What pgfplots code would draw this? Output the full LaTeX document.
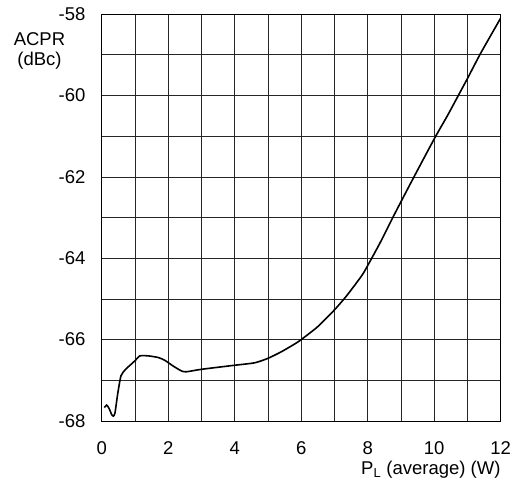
\documentclass[border=0pt]{standalone}
\usepackage{pgfplots}
\pgfplotsset{compat=1.18}
\usepackage{fontspec}
\setmainfont{Liberation Sans}
\begin{document}
\fontsize{18.5}{20}\selectfont
\begin{tikzpicture}
\path[use as bounding box] (0,0) rectangle (519pt,488pt);
\begin{axis}[
  at={(101.7pt,67pt)}, anchor=south west,
  scale only axis, width=399pt, height=407pt,
  xmin=0, xmax=12, ymin=-68, ymax=-58,
  xtick={0,2,...,12}, ytick={-68,-66,...,-58},
  minor xtick={1,3,...,11}, minor ytick={-67,-65,...,-59},
  grid=both,
  major grid style={black!85, line width=0.6pt},
  minor grid style={black!85, line width=0.6pt},
  axis line style={black, line width=0.8pt},
  tick style={draw=none},
  /pgf/number format/assume math mode=true,
  ticklabel style={font=\fontsize{18.5}{20}\selectfont},
  xticklabel style={yshift=-14pt},
  yticklabel style={xshift=-10pt},
  xlabel={P\textsubscript{L} (average) (W)},
  xlabel style={at={(rel axis cs:0.825,-0.120)}, anchor=center, font=\fontsize{18.5}{20}\selectfont},
  ylabel={ACPR\\(dBc)},
  ylabel style={at={(rel axis cs:-0.156,0.909)}, rotate=-90, anchor=center, align=center, font=\fontsize{18.5}{20}\selectfont},
]
\addplot[black, line width=1.6pt, smooth, tension=0.4] coordinates {
(0.08,-67.67) (0.15,-67.61) (0.22,-67.69) (0.30,-67.84) (0.35,-67.88) (0.40,-67.80)
(0.48,-67.34) (0.58,-66.89) (0.72,-66.73) (0.88,-66.61) (1.0,-66.52) (1.15,-66.40)
(1.4,-66.40) (1.7,-66.44) (1.9,-66.51) (2.15,-66.65) (2.4,-66.77) (2.55,-66.79)
(3.0,-66.73) (4.0,-66.63) (4.6,-66.57) (5.0,-66.46) (5.4,-66.30) (5.8,-66.11)
(6.0,-66.0) (6.5,-65.68) (7.0,-65.27) (7.37,-64.92) (7.82,-64.43) (8.0,-64.18)
(8.38,-63.61) (8.78,-62.96) (9.38,-62.02) (10.02,-61.04) (10.39,-60.51) (10.74,-59.98)
(11.01,-59.57) (11.4,-58.96) (12.0,-58.10)
};
\end{axis}
\end{tikzpicture}
\end{document}
